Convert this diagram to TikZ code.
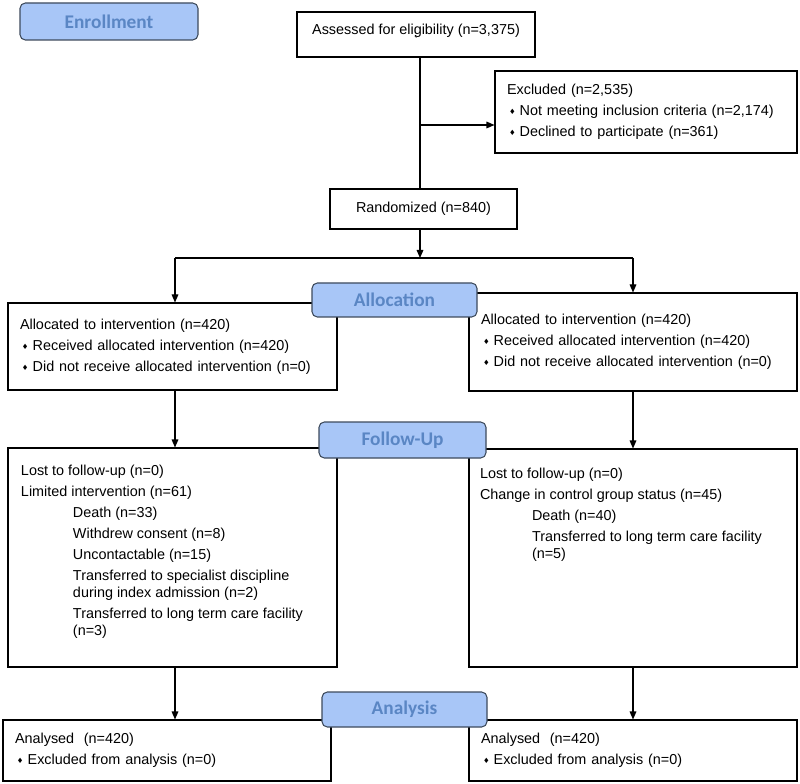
\documentclass[tikz,border=0pt]{standalone}
\usepackage{fontspec}
\setmainfont{Liberation Sans}
\newfontfamily\lblfont{Carlito}
\newfontfamily\symfont{DejaVu Sans}
\usetikzlibrary{arrows.meta,positioning}

\definecolor{stagefill}{HTML}{A8C6F7}
\definecolor{stagetext}{HTML}{5A86C4}
\definecolor{stageline}{HTML}{3D4A5C}

\newcommand{\dmd}{\makebox[9.5pt][l]{\hspace{1.5pt}\raisebox{0.6pt}{\symfont\fontsize{5.5}{6}\selectfont\char"2666}}}
\newcommand{\indsub}{\hspace*{39pt}}

\tikzset{every node/.style={font=\fontsize{10.8pt}{12.75pt}\selectfont}}
\tikzstyle{box}=[draw, line width=0.8pt, rectangle, align=left, inner xsep=9pt, inner ysep=0pt]
\tikzstyle{stage}=[draw=stageline, fill=stagefill, line width=0.8pt, rounded corners=4pt, text=stagetext, font=\lblfont\bfseries\fontsize{14.5pt}{16pt}\selectfont, inner sep=0pt]
\tikzstyle{txt}=[align=left, inner sep=0pt, anchor=north west]
\tikzstyle{arr}=[-{Triangle[length=6pt,width=5pt]}]

\begin{document}
\begin{tikzpicture}[x=0.75pt, y=-0.75pt, line width=0.8pt]
    \useasboundingbox (0,0) rectangle (800,784);

    % enrollment
    \node [box, minimum width=178.5pt, minimum height=33.75pt, align=center] (assess) at (416,34.5)
        {Assessed for eligibility (n=3,375)\\[-5pt]{\fontsize{8pt}{8pt}\selectfont\textasciigrave}};
    \node [box, text width=208.5pt, minimum height=61.5pt] (excl) at (646,112)
        {Excluded (n=2,535)\\[3pt]
         \dmd Not meeting inclusion criteria (n=2,174)\\[3pt]
         \dmd Declined to participate (n=361)};
    \node [box, minimum width=140.25pt, minimum height=30pt, align=center] (rand) at (423.5,209)
        {Randomized (n=840)};

    % allocation
    \node [box, text width=228.75pt, minimum height=65.25pt] (allocL) at (172.5,346.5)
        {Allocated to intervention (n=420)\\[3pt]
         \dmd Received allocated intervention (n=420)\\[3pt]
         \dmd Did not receive allocated intervention (n=0)};
    \node [box, text width=228pt, minimum height=73.5pt] (allocR) at (633,342)
        {Allocated to intervention (n=420)\\[3pt]
         \dmd Received allocated intervention (n=420)\\[3pt]
         \dmd Did not receive allocated intervention (n=0)};

    % follow-up
    \node [box, minimum width=246.75pt, minimum height=164.25pt] (fuL) at (172.5,557.5) {};
    \node [txt, below right=12.5pt and 9.75pt of fuL.north west] (fuLtxt)
        {Lost to follow-up (n=0)\\[3pt]
         Limited intervention (n=61)\\[3pt]
         \indsub Death (n=33)\\[3pt]
         \indsub Withdrew consent (n=8)\\[3pt]
         \indsub Uncontactable (n=15)\\[3pt]
         \indsub Transferred to specialist discipline\\
         \indsub during index admission (n=2)\\[3pt]
         \indsub Transferred to long term care facility\\
         \indsub (n=3)};
    \node [box, minimum width=246pt, minimum height=163.5pt] (fuR) at (633,558) {};
    \node [txt, below right=14pt and 8.25pt of fuR.north west] (fuRtxt)
        {Lost to follow-up (n=0)\\[3pt]
         Change in control group status (n=45)\\[3pt]
         \indsub Death (n=40)\\[3pt]
         \indsub Transferred to long term care facility\\
         \indsub (n=5)};

    % analysis
    \node [box, text width=228pt, minimum height=45.75pt] (anL) at (167,750.5)
        {Analysed~ (n=420)\\[3pt]
         \dmd Excluded from analysis (n=0)};
    \node [box, text width=228pt, minimum height=45.75pt] (anR) at (633,750.5)
        {Analysed~ (n=420)\\[3pt]
         \dmd Excluded from analysis (n=0)};

    % stage labels
    \node [stage, minimum width=133.5pt, minimum height=27.75pt] (enroll) at (109,21.5) {Enrollment};
    \node [stage, minimum width=123.75pt, minimum height=25.5pt] (allocLbl) at (394.5,300) {Allocation};
    \node [stage, minimum width=125.25pt, minimum height=27pt] (fuLbl) at (402.5,440) {Follow-Up};
    \node [stage, minimum width=123.75pt, minimum height=26.25pt] (anLbl) at (404.5,709.5) {Analysis};

    % connectors
    \coordinate (split) at (420,125);
    \coordinate (barL) at (175,258);
    \coordinate (barR) at (633,258);
    \draw (assess.south -| split) -- (rand.north -| split);
    \draw [arr] (split) -- (split -| excl.west);
    \draw [arr] (rand.south -| split) -- (split |- barL);
    \draw (barL) -- (barR);
    \draw [arr] (barL) -- (allocL.north -| barL);
    \draw [arr] (barR) -- (allocR.north);
    \draw [arr] (allocL.south -| barL) -- (fuL.north -| barL);
    \draw [arr] (allocR.south) -- (fuR.north);
    \draw [arr] (fuL.south -| barL) -- (anL.north -| barL);
    \draw [arr] (fuR.south) -- (anR.north);
\end{tikzpicture}
\end{document}
